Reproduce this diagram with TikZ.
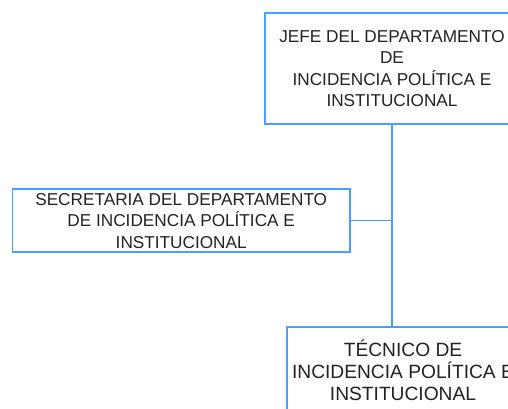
\documentclass[tikz,border=0pt]{standalone}
\usepackage{fontspec}
\setmainfont{Liberation Sans}
\usetikzlibrary{positioning}

\definecolor{linea}{RGB}{74,158,255}
\definecolor{texto}{RGB}{34,34,34}

\tikzset{
  cargo/.style={draw=linea, line width=1.5pt, fill=white, align=center, text=texto,
    font=\fontsize{17.2}{21.5}\selectfont, inner sep=0pt},
  rama/.style={draw=linea, line width=1.5pt}
}

\begin{document}
\begin{tikzpicture}[x=1pt,y=1pt]
\useasboundingbox (0,0) rectangle (508,409);

% Jefe
\node[cargo, minimum width=254, minimum height=111] (jefe) at (392,340.5)
  {JEFE DEL DEPARTAMENTO\\DE\\INCIDENCIA POLÍTICA E\\INSTITUCIONAL};

% Secretaria
\node[cargo, minimum width=337.7, minimum height=62.7] (secre) at (181.2,188.4)
  {SECRETARIA DEL DEPARTAMENTO\\DE INCIDENCIA POLÍTICA E\\INSTITUCIONAL};

% Tecnico
\node[cargo, minimum width=232, minimum height=86, font=\fontsize{19.2}{22}\selectfont]
  (tecnico) at (403,39)
  {TÉCNICO DE\\INCIDENCIA POLÍTICA E\\INSTITUCIONAL};

% lineas
\draw[rama] (jefe.south) -- (jefe.south |- tecnico.north);
\draw[rama] (secre.east) -- (secre.east -| jefe.south);

\end{tikzpicture}
\end{document}
